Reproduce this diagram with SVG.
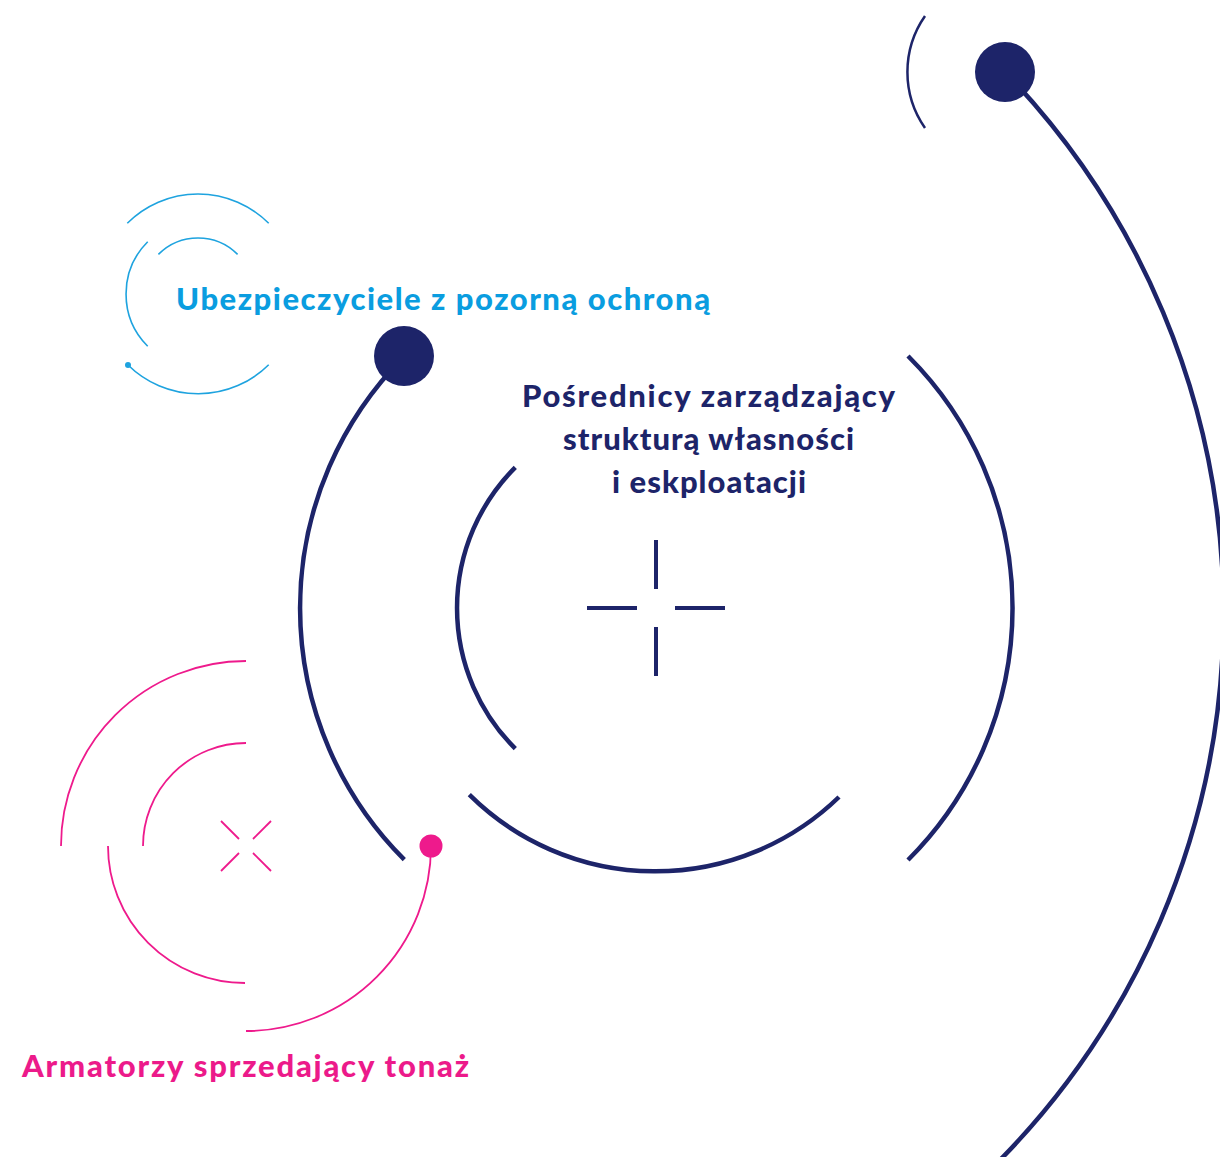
<svg xmlns="http://www.w3.org/2000/svg" width="1220" height="1157" viewBox="0 0 1220 1157">
<style>
.navy{fill:none;stroke:#1d2469;stroke-width:4.5}
.navyThin{fill:none;stroke:#1d2469;stroke-width:2.5}
.blue{fill:none;stroke:#1ea3df;stroke-width:1.6}
.pink{fill:none;stroke:#ee1a8c;stroke-width:1.8}
.t{font-family:Lato,"Open Sans","Liberation Sans",sans-serif;font-weight:900;font-size:31px}
</style>
<rect width="1220" height="1157" fill="#ffffff"/>
<g id="connectors">
  <path class="navy" d="M1005,72 A780,780 0 0 1 1000,1160"/>
  <path class="navy" d="M404.3,356.3 A356,356 0 0 0 404.3,859.7"/>
  <path class="blue" d="M128,365 A100,100 0 0 0 268.7,364.7"/>
  <path class="pink" d="M431,846 A185,185 0 0 1 246,1031"/>
</g>
<g id="node-top">
  <path class="navyThin" d="M925,16 A98,98 0 0 0 925,128"/>
  <circle cx="1005" cy="72" r="30" fill="#1d2469"/>
</g>
<g id="node-center">
  <path class="navy" d="M908,356 A356,356 0 0 1 908,860"/>
  <path class="navy" d="M515.3,467.3 A199,199 0 0 0 515.3,748.7"/>
  <path class="navy" d="M469.3,794.7 A264,264 0 0 0 839,797"/>
  <g class="navy" style="stroke-width:4">
    <line x1="656" y1="540" x2="656" y2="589"/>
    <line x1="656" y1="627" x2="656" y2="676"/>
    <line x1="587" y1="608" x2="637" y2="608"/>
    <line x1="675" y1="608" x2="725" y2="608"/>
  </g>
  <circle cx="404" cy="356" r="30" fill="#1d2469"/>
  <text class="t" fill="#1d2469"><tspan x="522" y="407" textLength="373" lengthAdjust="spacing">Pośrednicy zarządzający</tspan><tspan x="563" y="450" textLength="291" lengthAdjust="spacing">strukturą własności</tspan><tspan x="612" y="493" textLength="194" lengthAdjust="spacing">i eskploatacji</tspan></text>
</g>
<g id="node-blue">
  <path class="blue" d="M127.3,223.3 A100,100 0 0 1 268.7,223.3"/>
  <path class="blue" d="M147.7,241.7 A74,74 0 0 0 147.7,346.3"/>
  <path class="blue" d="M158.4,254.4 A56,56 0 0 1 237.6,254.4"/>
  <circle cx="128" cy="365" r="3" fill="#1ea3df"/>
  <text class="t" fill="#0a9de0" x="176" y="310" textLength="534" lengthAdjust="spacing">Ubezpieczyciele z pozorną ochroną</text>
</g>
<g id="node-pink">
  <path class="pink" d="M246,661 A185,185 0 0 0 61,846"/>
  <path class="pink" d="M246,743 A103,103 0 0 0 143,846"/>
  <path class="pink" d="M108,846 A137,137 0 0 0 245,983"/>
  <g class="pink">
    <line x1="221" y1="821" x2="239" y2="839"/>
    <line x1="271" y1="821" x2="253" y2="839"/>
    <line x1="221" y1="871" x2="239" y2="853"/>
    <line x1="271" y1="871" x2="253" y2="853"/>
  </g>
  <circle cx="431" cy="846" r="11.5" fill="#ee1a8c"/>
  <text class="t" fill="#ec1a8a" x="22" y="1077" textLength="447" lengthAdjust="spacing">Armatorzy sprzedający tonaż</text>
</g>
</svg>
